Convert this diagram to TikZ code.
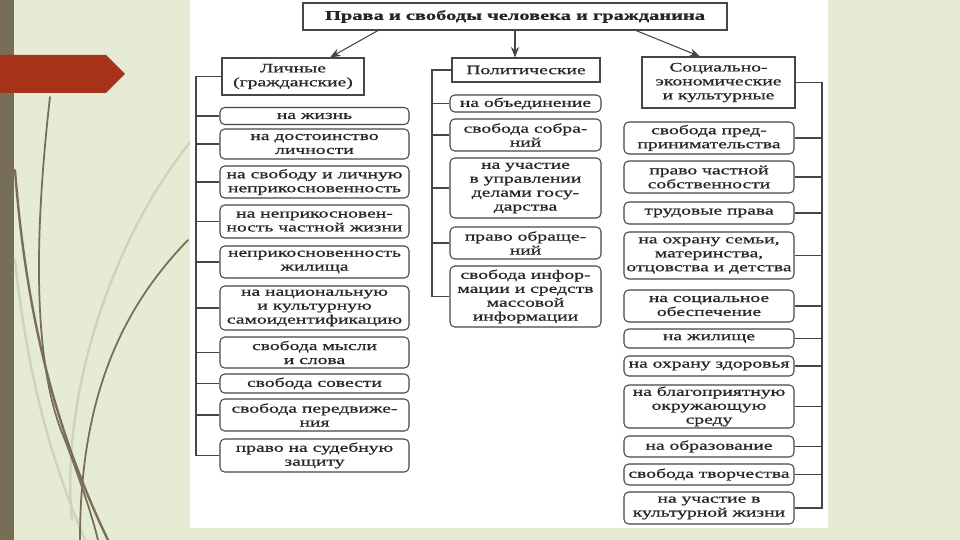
\documentclass[tikz,border=0pt]{standalone}
\usepackage{fontspec}
\setmainfont{Liberation Serif}
\newfontfamily\scanfont[FakeStretch=1.52,FakeBold=0.8]{Liberation Serif}
\usepackage{tikz}
\usetikzlibrary{arrows.meta,positioning,calc}
\definecolor{sage}{RGB}{230,235,213}
\definecolor{barbrown}{RGB}{120,109,85}
\definecolor{arrowred}{RGB}{166,50,24}
\definecolor{stemlight}{RGB}{206,211,190}
\definecolor{inkgray}{RGB}{70,70,70}

\begin{document}
\begin{tikzpicture}[
  x=0.03cm, y=-0.03cm,
  font={\scanfont\fontsize{11pt}{11.9pt}\selectfont},
  item/.style={draw=inkgray, line width=0.9pt, rounded corners=4pt, align=center,
    inner sep=1pt, fill=white, text=black!85},
  head/.style={draw=inkgray, line width=0.9pt, align=center, inner sep=1pt,
    fill=white, text=black!85},
  lbox/.style={item, minimum width=5.67cm},
  mbox/.style={item, minimum width=4.53cm},
  rbox/.style={item, minimum width=5.1cm},
  ht/.style={minimum height=#1*0.03cm},
  bus/.style={draw=inkgray, line width=0.9pt},
  arr/.style={-{Stealth[length=9pt,width=7pt]}, draw=inkgray, line width=0.9pt},
  stem/.style={line width=2pt, line cap=round}
]
\useasboundingbox (0,0) rectangle (960,540);

% slide background
\fill[sage] (0,0) rectangle (960,540);
\draw[stem, stemlight] (192,140) .. controls (110,240) and (60,400) .. (72,520);
\draw[stem, stemlight] (15,260) .. controls (30,400) and (60,480) .. (85,540);
\draw[stem, barbrown, line width=1.5pt] (50,97) .. controls (36,220) and (30,360) .. (65,440) .. controls (80,480) and (92,515) .. (98,540);
\draw[stem, barbrown] (15,170) .. controls (25,300) and (50,420) .. (108,540);
\draw[stem, barbrown, line width=1.5pt] (188,240) .. controls (120,310) and (80,400) .. (80,540);
\fill[white] (190,0) rectangle (828,528);
\fill[barbrown] (0,0) rectangle (14,540);
\fill[arrowred] (0,55) -- (106,55) -- (125,74) -- (106,93) -- (0,93) -- cycle;

% top and the three groups
\node[head, font={\scanfont\bfseries\fontsize{11.5pt}{12pt}\selectfont},
  minimum width=12.72cm, ht=27] (title) at (515,16.5) {Права и свободы человека и гражданина};
\node[head, minimum width=4.26cm, ht=37] (lich) at (293,76.5) {Личные\\(гражданские)};
\node[head, minimum width=4.44cm, ht=24] (pol) at (526,70) {Политические};
\node[head, minimum width=4.59cm, ht=51] (soc) at (718.5,82.5) {Социально-\\экономические\\и культурные};

\draw[arr] ([xshift=-4.11cm]title.south) -- ([xshift=1.11cm]lich.north);
\draw[arr] (title.south) -- (title.south |- pol.north);
\draw[arr] ([xshift=3.63cm]title.south) -- ([xshift=-0.555cm]soc.north);

% personal rights
\node[lbox, ht=17] (l1) at (314.5,116) {на жизнь};
\node[lbox, ht=30] (l2) at (314.5,144) {на достоинство\\личности};
\node[lbox, ht=32] (l3) at (314.5,182) {на свободу и личную\\неприкосновенность};
\node[lbox, ht=33] (l4) at (314.5,221.5) {на неприкосновен-\\ность частной жизни};
\node[lbox, ht=32] (l5) at (314.5,262) {неприкосновенность\\жилища};
\node[lbox, ht=44] (l6) at (314.5,308) {на национальную\\и культурную\\самоидентификацию};
\node[lbox, ht=31] (l7) at (314.5,352.5) {свобода мысли\\и слова};
\node[lbox, ht=19] (l8) at (314.5,383.5) {свобода совести};
\node[lbox, ht=32] (l9) at (314.5,415) {свобода передвиже-\\ния};
\node[lbox, ht=33] (l10) at (314.5,455.5) {право на судебную\\защиту};

% political rights
\node[mbox, ht=17] (m1) at (525.5,103.5) {на объединение};
\node[mbox, ht=32] (m2) at (525.5,135) {свобода собра-\\ний};
\node[mbox, ht=60] (m3) at (525.5,188) {на участие\\в управлении\\делами госу-\\дарства};
\node[mbox, ht=32] (m4) at (525.5,243) {право обраще-\\ний};
\node[mbox, ht=61] (m5) at (525.5,296.5) {свобода инфор-\\мации и средств\\массовой\\информации};

% social, economic and cultural rights
\node[rbox, ht=32] (r1) at (709,138) {свобода пред-\\принимательства};
\node[rbox, ht=32] (r2) at (709,177) {право частной\\собственности};
\node[rbox, ht=22] (r3) at (709,213) {трудовые права};
\node[rbox, ht=47] (r4) at (709,255.5) {на охрану семьи,\\материнства,\\отцовства и детства};
\node[rbox, ht=32] (r5) at (709,306) {на социальное\\обеспечение};
\node[rbox, ht=19] (r6) at (709,338.5) {на жилище};
\node[rbox, ht=20] (r7) at (709,366) {на охрану здоровья};
\node[rbox, ht=43] (r8) at (709,406.5) {на благоприятную\\окружающую\\среду};
\node[rbox, ht=21] (r9) at (709,446.5) {на образование};
\node[rbox, ht=21] (r10) at (709,474.5) {свобода творчества};
\node[rbox, ht=32] (r11) at (709,508) {на участие в\\культурной жизни};

% side buses
\coordinate (lbus) at (196,0);
\coordinate (mbus) at (432,0);
\coordinate (rbus) at (822,0);
\draw[bus] (lich.west) -- (lich.west -| lbus) |- (l10.west);
\foreach \i in {1,...,9} \draw[bus] (l\i.west -| lbus) -- (l\i.west);
\draw[bus] (pol.west) -- (pol.west -| mbus) |- (m5.west);
\foreach \i in {1,...,4} \draw[bus] (m\i.west -| mbus) -- (m\i.west);
\draw[bus] (soc.east) -- (soc.east -| rbus) |- (r11.east);
\foreach \i in {1,...,10} \draw[bus] (r\i.east -| rbus) -- (r\i.east);
\end{tikzpicture}
\end{document}
